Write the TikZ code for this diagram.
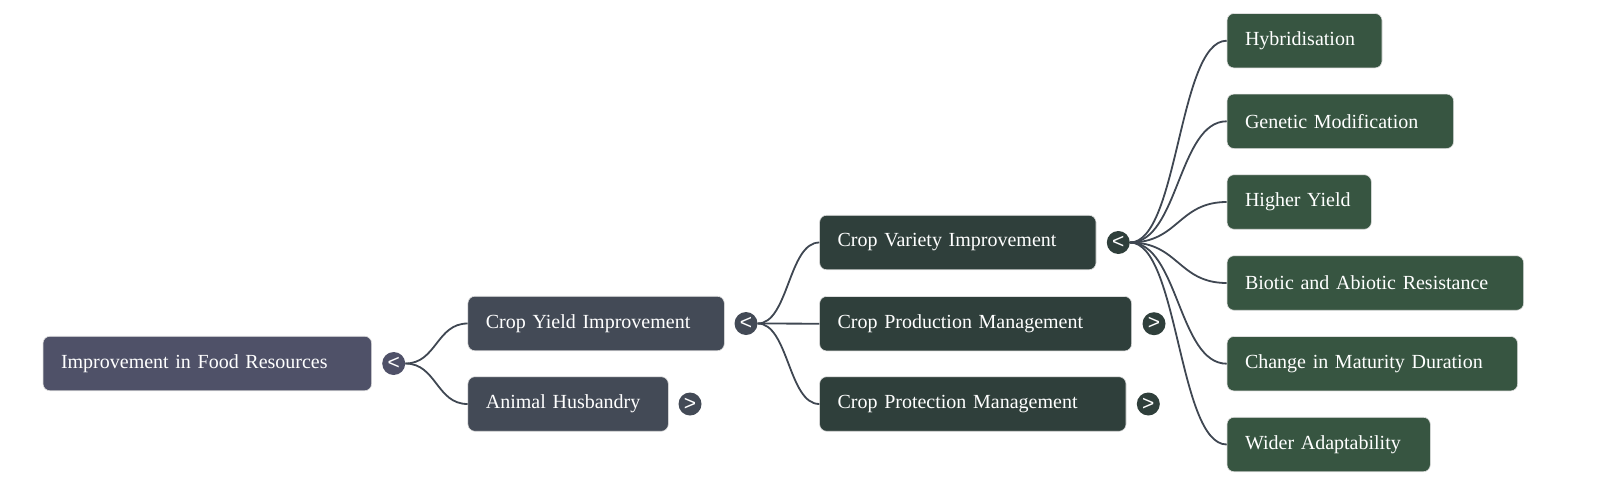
\documentclass[tikz,border=0pt]{standalone}
\usepackage{fontspec}
\setmainfont{Liberation Serif}
\newfontfamily\knobfont{Liberation Sans}
\usetikzlibrary{calc}
\definecolor{rootfill}{HTML}{4F5168}
\definecolor{yieldfill}{HTML}{434A56}
\definecolor{cropfill}{HTML}{2F3F3B}
\definecolor{leaffill}{HTML}{375541}
\definecolor{linkgray}{HTML}{3F4752}
\begin{document}
\begin{tikzpicture}[x=1pt, y=-1pt,
  box/.style={anchor=west, rounded corners=7pt, draw=gray!25, line width=0.6pt, text=white,
    minimum height=54.5pt, inner xsep=18pt, align=left, font=\fontsize{20}{24}\selectfont},
  knob/.style={circle, inner sep=0pt, minimum size=23pt, text=white,
    font=\knobfont\fontsize{21}{21}\selectfont},
  link/.style={draw=linkgray, line width=1.8pt}]
\useasboundingbox (0, 0) rectangle (1600, 485);

\node [box, fill=rootfill, text width=292.6pt] (root) at (42.7, 363.5) {Improvement in Food Resources};
\node [knob, fill=rootfill] (k0) at (393.7, 363.5) {<};

\node [box, fill=yieldfill, text width=220.4pt] (cyi) at (467.6, 323.5) {Crop Yield Improvement};
\node [knob, fill=yieldfill] (k1) at (746, 323.5) {<};
\node [box, fill=yieldfill, text width=164.4pt] (ahb) at (467.6, 404) {Animal Husbandry};
\node [knob, fill=yieldfill] (k2) at (690, 404) {>};

\node [box, fill=cropfill, text width=240.4pt] (cvi) at (819.3, 242.5) {Crop Variety Improvement};
\node [knob, fill=cropfill] (k3) at (1118.3, 242.5) {<};
\node [box, fill=cropfill, text width=276pt] (cpm) at (819.3, 323.7) {Crop Production Management};
\node [knob, fill=cropfill] (k4) at (1154, 323.7) {>};
\node [box, fill=cropfill, text width=270.4pt] (cpt) at (819.3, 404) {Crop Protection Management};
\node [knob, fill=cropfill] (k5) at (1148.3, 404) {>};

\node [box, fill=leaffill, text width=119pt] (hyb) at (1226.7, 40.7) {Hybridisation};
\node [box, fill=leaffill, text width=190.6pt] (gen) at (1226.7, 121.3) {Genetic Modification};
\node [box, fill=leaffill, text width=108.3pt] (hiy) at (1226.7, 202) {Higher Yield};
\node [box, fill=leaffill, text width=260.6pt] (bio) at (1226.7, 283) {Biotic and Abiotic Resistance};
\node [box, fill=leaffill, text width=254.6pt] (mat) at (1226.7, 363.7) {Change in Maturity Duration};
\node [box, fill=leaffill, text width=167.3pt] (wid) at (1226.7, 444.5) {Wider Adaptability};

\foreach \a/\b in {k0/cyi, k0/ahb, k1/cvi, k1/cpm, k1/cpt,
  k3/hyb, k3/gen, k3/hiy, k3/bio, k3/mat, k3/wid}
  \draw [link] let \p1 = (\a.east), \p2 = (\b.west) in
    (\p1) .. controls (\x1/2+\x2/2, \y1) and (\x1/2+\x2/2, \y2) .. (\p2);
\end{tikzpicture}
\end{document}
